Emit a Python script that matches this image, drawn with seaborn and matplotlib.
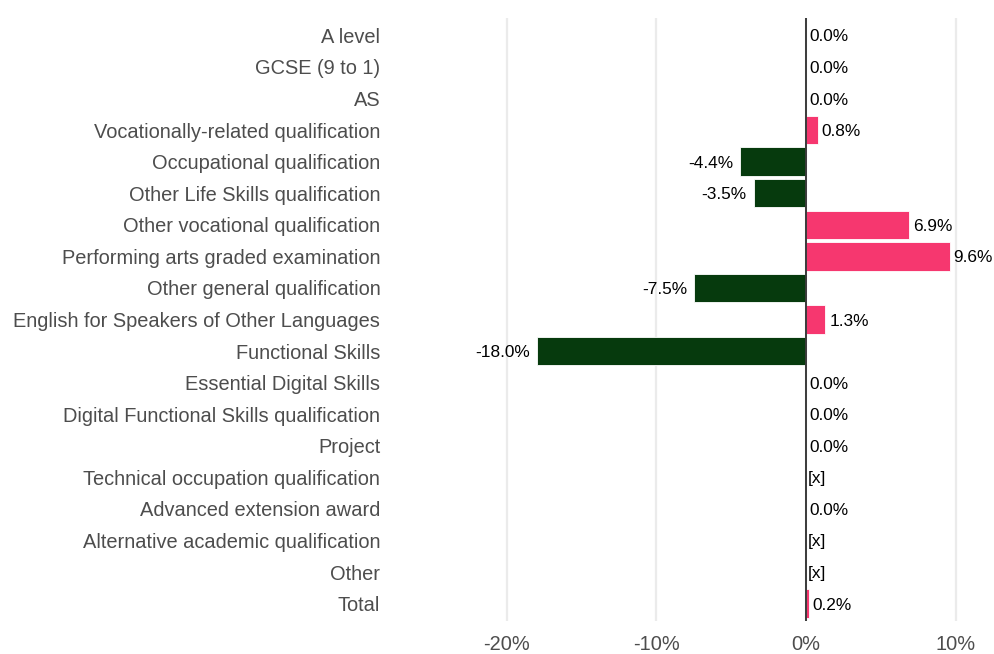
import matplotlib.pyplot as plt
import seaborn as sns
import numpy as np
import pandas as pd

categories = ['A level', 'GCSE (9 to 1)', 'AS', 'Vocationally-related qualification',
              'Occupational qualification', 'Other Life Skills qualification',
              'Other vocational qualification', 'Performing arts graded examination',
              'Other general qualification', 'English for Speakers of Other Languages',
              'Functional Skills', 'Essential Digital Skills',
              'Digital Functional Skills qualification', 'Project',
              'Technical occupation qualification', 'Advanced extension award',
              'Alternative academic qualification', 'Other', 'Total']
change = [0.0, 0.0, 0.0, 0.8, -4.4, -3.5, 6.9, 9.6, -7.5, 1.3, -18.0, 0.0, 0.0, 0.0,
          np.nan, 0.0, np.nan, np.nan, 0.2]
xticks = [-20, -10, 0, 10]

df = pd.DataFrame({'category': categories, 'change': change})
df['sign'] = np.where(df['change'] < 0, 'neg', 'pos')

sns.set_style('white')
plt.rcParams['font.family'] = ['Liberation Sans', 'DejaVu Sans']

fig = plt.figure(figsize=(9.95, 6.54), dpi=100)
ax = fig.add_axes([390 / 995, 33 / 654, 600 / 995, 603 / 654])

# light vertical gridlines
for t in xticks:
    ax.axvline(t, color='#EBEBEB', lw=1.6, zorder=0)

sns.barplot(data=df, x='change', y='category', hue='sign', orient='h', dodge=False,
            palette={'pos': '#F6376F', 'neg': '#063A0D'}, width=0.9, saturation=1,
            edgecolor='white', linewidth=0.6, legend=False, ax=ax)

ax.axvline(0, color='#3A3A3A', lw=1.4, zorder=3)

# value labels, [x] where suppressed
fs = 12.4
for i, v in enumerate(change):
    if np.isnan(v):
        ax.text(0.1, i, '[x]', va='center_baseline', ha='left', fontsize=fs, color='black')
    elif v < 0:
        ax.text(v - 0.45, i, f'{v:.1f}%', va='center_baseline', ha='right', fontsize=fs, color='black')
    else:
        ax.text(v + 0.25, i, f'{v:.1f}%', va='center_baseline', ha='left', fontsize=fs, color='black')

ax.set_xlim(-27.8, 12.3)
ax.set_ylim(len(categories) - 0.5 + 0.05, -0.5 - 0.05)
ax.set_xticks(xticks)
ax.set_xticklabels([f'{t}%' for t in xticks])
ax.set_xlabel('')
ax.set_ylabel('')
ax.tick_params(axis='both', length=0, labelsize=14.4, colors='#4D4D4D')
ax.tick_params(axis='y', pad=7)
ax.tick_params(axis='x', pad=10)
for s in ax.spines.values():
    s.set_visible(False)

plt.savefig('out.png', dpi=100)
